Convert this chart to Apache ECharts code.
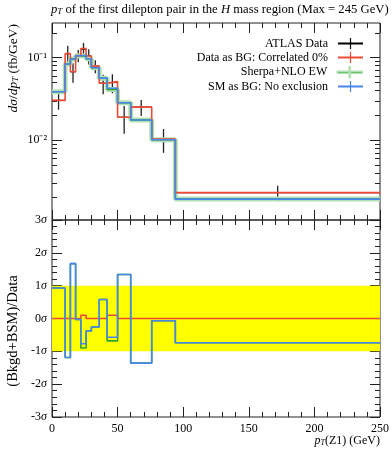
<!DOCTYPE html>
<html><head><meta charset="utf-8">
<script src="https://cdn.jsdelivr.net/npm/echarts@6/dist/echarts.min.js"></script>
<style>html,body{margin:0;padding:0;background:#fff}#c{width:392px;height:450px}</style>
</head><body><div id="c"></div>
<script>
// ---- data ----
const binEdges   = [0,10,14,18,22,26,30,36,42,50,60,76,94,250];
const dataVals   = [0.0303,0.112,0.0676,0.106,0.127,0.105,0.079,0.049,0.050,0.0189,0.0251,0.0103,0.0023];
const dataErrs   = [0.0069,0.028,0.0179,0.018,0.0246,0.022,0.014,0.013,0.013,0.0070,0.0055,0.0033,0.00049];
const redVals    = [0.0303,0.112,0.0676,0.106,0.1295,0.105,0.079,0.049,0.0513,0.0189,0.0251,0.0103,0.0023];
const greenVals  = [0.0386,0.0838,0.0964,0.1057,0.104,0.097,0.0755,0.0565,0.041,0.0284,0.0175,0.0101,0.00192];
const blueVals   = [0.0386,0.0838,0.0964,0.1057,0.107,0.097,0.0755,0.0565,0.0425,0.0284,0.0175,0.0101,0.00192];
const redRatio   = [0,0,0,0,0.1,0,0,0,0.1,0,0,0,0];
const greenRatio = [0.93,-1.19,1.67,-0.03,-0.9,-0.38,-0.26,0.58,-0.68,1.34,-1.36,-0.07,-0.74];
const blueRatio  = [0.93,-1.19,1.67,-0.03,-0.77,-0.38,-0.26,0.58,-0.57,1.34,-1.36,-0.07,-0.74];
const xRange     = [0, 250];
const xInterval  = 50;
const yRange     = [0.00107, 0.264];
const yMajorTicks = [0.01, 0.1];
const yMinorTicks = [0.002,0.003,0.004,0.005,0.006,0.007,0.008,0.009,0.02,0.03,0.04,0.05,0.06,0.07,0.08,0.09,0.2];
const ratioRange = [-3, 3];
const bandRange  = [-1, 1];
const names = ['ATLAS Data','Data as BG: Correlated 0%','Sherpa+NLO EW','SM as BG: No exclusion'];

// ---- styling ----
const FONT = 'Liberation Serif';
const INK = '#222';
const C_RED = '#ee4a36', C_BLUE = '#4a86ee', C_GREEN = '#2fa52f', C_BAND = '#b3e0b3';
const L = Math.log10;
function mkRich(size) {
  return {
    i: {fontFamily: FONT, fontStyle: 'italic', fontSize: size, color: '#000'},
    s: {fontFamily: FONT, fontStyle: 'italic', fontSize: Math.round(size * 0.68), color: '#000', verticalAlign: 'bottom'},
    n: {fontFamily: FONT, fontSize: size, color: '#000'}
  };
}
const rich = mkRich(12);

function steps(vals, tf) {
  const d = vals.map((v, i) => [binEdges[i], tf(v)]);
  d.push([binEdges[binEdges.length - 1], tf(vals[vals.length - 1])]);
  return d;
}
const logf = v => L(v), idf = v => v;

function xAx(grid, pos, labels) {
  return {
    type: 'value', gridIndex: grid, position: pos, min: xRange[0], max: xRange[1], interval: xInterval,
    axisLine: {show: false, onZero: false},
    axisTick: {show: true, inside: true, length: 10, lineStyle: {color: INK}},
    minorTick: {show: true, splitNumber: 5, length: 5, lineStyle: {color: INK}},
    splitLine: {show: false}, minorSplitLine: {show: false},
    axisLabel: {show: labels, margin: 6, fontFamily: FONT, fontSize: 12, color: '#000'}
  };
}
function yLogAx(pos, vals, len, labels) {
  return {
    type: 'value', gridIndex: 0, position: pos, min: L(yRange[0]), max: L(yRange[1]),
    axisLine: {show: false, onZero: false},
    axisTick: {show: true, inside: true, length: len, customValues: vals.map(L), lineStyle: {color: INK}},
    splitLine: {show: false},
    axisLabel: {show: labels, customValues: vals.map(L), margin: 5, fontFamily: FONT, fontSize: 12, color: '#000',
      formatter: v => '10' + (Math.round(v) === -1 ? '\u207B\u00B9' : '\u207B\u00B2')}
  };
}
function yRatioAx(pos, labels) {
  return {
    type: 'value', gridIndex: 1, position: pos, min: ratioRange[0], max: ratioRange[1], interval: 1,
    axisLine: {show: false, onZero: false},
    axisTick: {show: true, inside: true, length: 10, lineStyle: {color: INK}},
    minorTick: {show: true, splitNumber: 5, length: 5, lineStyle: {color: INK}},
    splitLine: {show: false}, minorSplitLine: {show: false},
    axisLabel: {show: labels, margin: 5, fontFamily: FONT, fontSize: 12, color: '#000',
      formatter: v => (v < 0 ? '-' : '') + Math.abs(v) + '{i|\u03C3}', rich: rich}
  };
}

const dataPts = dataVals.map((v, i) => [
  (binEdges[i] + binEdges[i + 1]) / 2, L(v), L(v - dataErrs[i]), L(v + dataErrs[i]), binEdges[i], binEdges[i + 1]
]);

function lineSeries(name, vals, tf, color, width, xi, yi, z) {
  return {
    name: name, type: 'line', step: 'end', xAxisIndex: xi, yAxisIndex: yi, data: steps(vals, tf),
    showSymbol: false, symbol: 'none', silent: true, animation: false, z: z,
    lineStyle: {color: color, width: width}, itemStyle: {color: color}
  };
}

const crossIcon = 'path://M0,4.6L25,4.6L25,6.4L0,6.4Z M11.9,0L13.1,0L13.1,11L11.9,11Z';
function legendRow(name, top, color, extra) {
  return {
    data: [{name: name, icon: crossIcon, itemStyle: Object.assign({color: color}, extra || {})}],
    orient: 'vertical', right: 29, top: top, align: 'right', itemWidth: 25, itemHeight: 11,
    padding: 0, selectedMode: false,
    textStyle: {fontFamily: FONT, fontSize: 12, color: '#000', padding: [0, 5, 0, 0]}
  };
}

const ratioRed = lineSeries('ratio red', redRatio, idf, C_RED, 1.6, 2, 4, 4);
ratioRed.markArea = {silent: true, itemStyle: {color: '#ffff00'},
  data: [[{xAxis: xRange[0], yAxis: bandRange[0]}, {xAxis: xRange[1], yAxis: bandRange[1]}]]};

const option = {
  animation: false,
  backgroundColor: '#fff',
  title: {
    text: '{i|p}{s|T}{n| of the first dilepton pair in the }{i|H}{n| mass region (Max = 245 GeV)}',
    left: 51, top: 3, padding: 0,
    textStyle: {fontFamily: FONT, fontSize: 12.7, fontWeight: 'normal', color: '#000', rich: mkRich(12.7)}
  },
  grid: [
    {left: 52, right: 12, top: 23, height: 197, show: true, borderColor: INK, borderWidth: 1, backgroundColor: 'transparent'},
    {left: 52, right: 12, top: 220, height: 197, show: true, borderColor: INK, borderWidth: 1, backgroundColor: 'transparent'}
  ],
  xAxis: [
    xAx(0, 'bottom', false), xAx(0, 'top', false),
    Object.assign(xAx(1, 'bottom', true), {
      name: '{i|p}{s|T}{n|(Z1) (GeV)}', nameLocation: 'end', nameGap: 0,
      nameTextStyle: {align: 'right', verticalAlign: 'top', padding: [18, 0, 0, 0], rich: rich}
    }),
    xAx(1, 'top', false)
  ],
  yAxis: [
    yLogAx('left', yMajorTicks, 10, true),
    yLogAx('left', yMinorTicks, 5, false),
    yLogAx('right', yMajorTicks, 10, false),
    yLogAx('right', yMinorTicks, 5, false),
    yRatioAx('left', true),
    yRatioAx('right', false)
  ],
  legend: [
    legendRow(names[0], 37.5, '#000'),
    legendRow(names[1], 51.5, C_RED),
    legendRow(names[2], 66, C_GREEN, {borderColor: C_BAND, borderWidth: 1.5}),
    legendRow(names[3], 80.5, C_BLUE)
  ],
  graphic: [
    {type: 'text', x: 13, y: 24, rotation: Math.PI / 2, silent: true,
     style: {text: '{i|d\u03C3}{n|/}{i|dp}{s|T}{n| (fb/GeV)}', align: 'right', verticalAlign: 'middle', rich: mkRich(13.5),
             fontFamily: FONT, fontSize: 13.5}},
    {type: 'text', x: 13, y: 331, rotation: Math.PI / 2, silent: true,
     style: {text: '(Bkgd+BSM)/Data', align: 'center', verticalAlign: 'middle', fontFamily: FONT, fontSize: 14.5, fill: '#000'}}
  ],
  series: [
    {
      name: names[0], type: 'custom', xAxisIndex: 0, yAxisIndex: 0, data: dataPts, z: 2, silent: true,
      encode: {x: 0, y: 1}, itemStyle: {color: '#000'},
      renderItem: function (params, api) {
        const c = api.value(0), y = api.value(1), ylo = api.value(2), yhi = api.value(3), x0 = api.value(4), x1 = api.value(5);
        const pa = api.coord([x0, y]), pb = api.coord([x1, y]);
        const pl = api.coord([c, ylo]), ph = api.coord([c, yhi]);
        return {type: 'group', children: [
          {type: 'line', shape: {x1: pa[0], y1: pa[1], x2: pb[0], y2: pb[1]}, style: {stroke: '#000', lineWidth: 1.2}},
          {type: 'line', shape: {x1: pl[0], y1: pl[1], x2: ph[0], y2: ph[1]}, style: {stroke: '#222', lineWidth: 1.3}}
        ]};
      }
    },
    lineSeries('band', greenVals, logf, C_BAND, 5, 0, 0, 3),
    lineSeries(names[2], greenVals, logf, C_GREEN, 1.5, 0, 0, 4),
    lineSeries(names[1], redVals, logf, C_RED, 1.6, 0, 0, 5),
    lineSeries(names[3], blueVals, logf, C_BLUE, 1.6, 0, 0, 6),
    ratioRed,
    lineSeries('ratio green', greenRatio, idf, C_GREEN, 1.6, 2, 4, 5),
    lineSeries('ratio blue', blueRatio, idf, C_BLUE, 1.6, 2, 4, 6)
  ]
};
const chart = echarts.init(document.getElementById('c'), null, {renderer: 'canvas'});
chart.setOption(option);
</script></body></html>
